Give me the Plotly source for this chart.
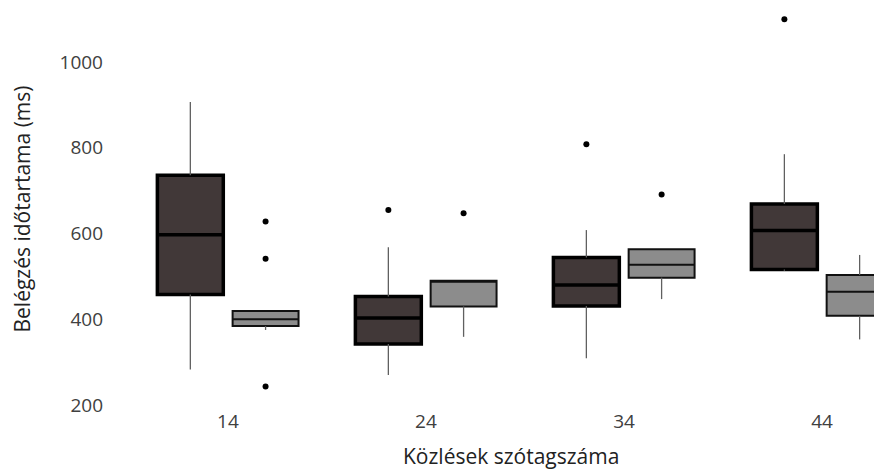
import plotly.graph_objects as go

categories = ["14", "24", "34", "44"]

# Group A (dark boxes)
dark_q1 = [458, 342, 431, 516]
dark_median = [597, 403, 480, 607]
dark_q3 = [736, 453, 544, 669]
dark_low = [283, 270, 309, 513]
dark_high = [907, 568, 608, 785]
dark_outliers = [[], [655], [808], [1100]]

# Group B (grey boxes)
grey_q1 = [384, 430, 497, 408]
grey_median = [400, 489, 527, 464]
grey_q3 = [419, 490, 563, 503]
grey_low = [375, 359, 447, 353]
grey_high = [419, 490, 563, 550]
grey_outliers = [[628, 541, 243], [647], [691], []]

y_ticks = [200, 400, 600, 800, 1000]

OFFSET = 0.19
BOX_W = 0.333

idx = list(range(len(categories)))
dark_x = [i - OFFSET for i in idx]
grey_x = [i + OFFSET for i in idx]


def whisker_xy(xs, q1, q3, low, high):
    wx, wy = [], []
    for x, a, b, lo, hi in zip(xs, q1, q3, low, high):
        if hi > b:
            wx += [x, x, None]
            wy += [b, hi, None]
        if lo < a:
            wx += [x, x, None]
            wy += [lo, a, None]
    return wx, wy


def outlier_xy(xs, outs):
    ox, oy = [], []
    for x, vals in zip(xs, outs):
        for v in vals:
            ox.append(x)
            oy.append(v)
    return ox, oy


fig = go.Figure()

for xs, q1, q3, lo, hi in [
    (dark_x, dark_q1, dark_q3, dark_low, dark_high),
    (grey_x, grey_q1, grey_q3, grey_low, grey_high),
]:
    wx, wy = whisker_xy(xs, q1, q3, lo, hi)
    fig.add_trace(go.Scatter(x=wx, y=wy, mode="lines",
                             line=dict(color="#606060", width=1.3),
                             hoverinfo="skip", showlegend=False))

fig.add_trace(go.Box(
    x=dark_x, q1=dark_q1, median=dark_median, q3=dark_q3,
    lowerfence=dark_q1, upperfence=dark_q3,
    width=BOX_W, whiskerwidth=0,
    fillcolor="#413838", line=dict(color="#000000", width=3.5),
    boxpoints=False, showlegend=False, name="A"))

fig.add_trace(go.Box(
    x=grey_x, q1=grey_q1, median=grey_median, q3=grey_q3,
    lowerfence=grey_q1, upperfence=grey_q3,
    width=BOX_W, whiskerwidth=0,
    fillcolor="#8c8c8c", line=dict(color="#111111", width=2),
    boxpoints=False, showlegend=False, name="B"))

for xs, outs in [(dark_x, dark_outliers), (grey_x, grey_outliers)]:
    ox, oy = outlier_xy(xs, outs)
    fig.add_trace(go.Scatter(x=ox, y=oy, mode="markers",
                             marker=dict(color="#000000", size=6),
                             hoverinfo="skip", showlegend=False))

FONT = "Open Sans"
fig.update_layout(
    width=874, height=464,
    margin=dict(l=96, r=0, t=2, b=64),
    paper_bgcolor="white", plot_bgcolor="white",
    font=dict(family=FONT, color="#333333", size=19),
    boxmode="overlay",
    xaxis=dict(
        range=[-0.626, 3.303], tickmode="array", tickvals=idx,
        ticktext=categories, showgrid=False, zeroline=False,
        showline=False, ticks="", automargin=False,
        tickfont=dict(size=19, color="#404040"),
    ),
    yaxis=dict(
        range=[193, 1121.3], tickmode="array", tickvals=y_ticks,
        showgrid=False, zeroline=False, showline=False, ticks="",
        automargin=False, ticksuffix=" ",
        tickfont=dict(size=19, color="#404040"),
        title=dict(text="Belégzés időtartama (ms)",
                   font=dict(size=21, color="#222222"), standoff=28),
    ),
    annotations=[dict(
        text="Közlések szótagszáma", xref="paper", yref="paper",
        x=(503 - 96) / 778, y=(400 - 464) / 398,
        xanchor="center", yanchor="bottom", showarrow=False,
        font=dict(size=21, color="#222222", family=FONT),
    )],
)

fig.write_html("out.html")
